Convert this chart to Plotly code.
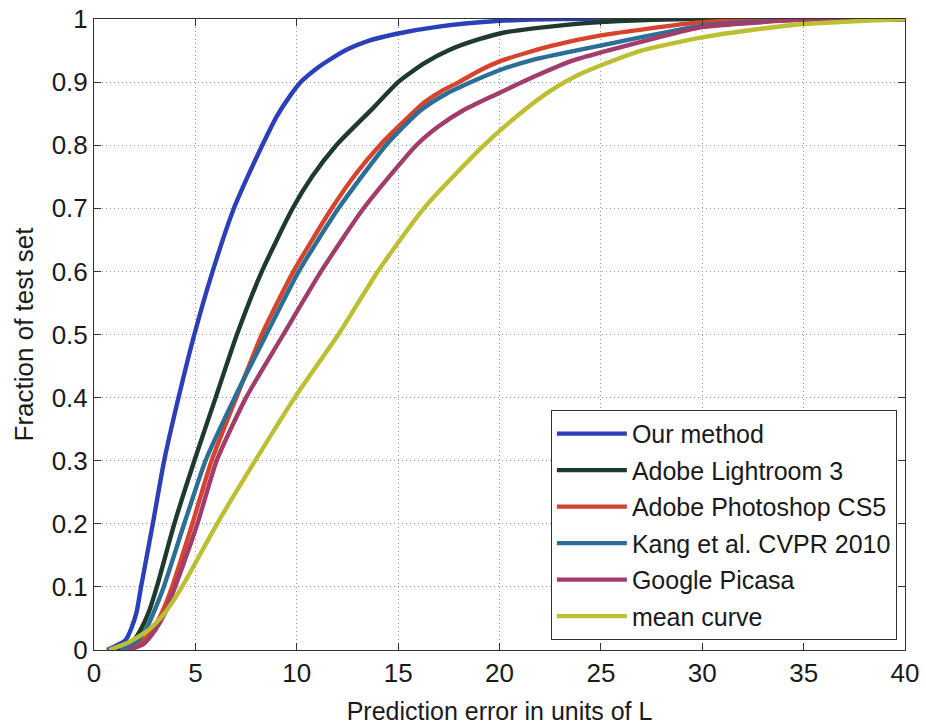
import plotly.graph_objects as go

# Series (x = prediction error, y = fraction of test set)
our_x = [0.65, 1.56, 1.85, 2.1, 2.32, 2.9, 3.46, 4.17, 4.95, 5.85, 6.9, 7.56, 8.3, 9.0, 9.6, 10.2, 11.0, 11.6, 12.5, 13.5, 15, 17, 20, 23, 40]
our_y = [0, 0.016, 0.035, 0.06, 0.1, 0.2, 0.3, 0.4, 0.5, 0.6, 0.7, 0.749, 0.8, 0.845, 0.875, 0.9, 0.922, 0.935, 0.952, 0.965, 0.977, 0.988, 0.997, 1, 1]

lr_x = [1.06, 1.97, 2.3, 2.7, 3.1, 3.96, 4.95, 6.0, 7.05, 8.28, 9.8, 10.75, 11.95, 13.8, 15.0, 16.3, 17.6, 19.0, 20.3, 22.5, 25, 29, 40]
lr_y = [0, 0.016, 0.032, 0.06, 0.1, 0.2, 0.3, 0.4, 0.5, 0.6, 0.7, 0.75, 0.8, 0.86, 0.9, 0.93, 0.952, 0.968, 0.979, 0.988, 0.995, 1, 1]

ps_x = [1.56, 2.46, 2.95, 3.36, 3.85, 4.85, 5.8, 7.02, 8.28, 9.84, 11.73, 12.9, 14.1, 15.0, 16.3, 17.1, 18.0, 19.0, 20.1, 22.5, 25, 30, 35, 40]
ps_y = [0, 0.016, 0.035, 0.06, 0.1, 0.2, 0.3, 0.4, 0.5, 0.6, 0.7, 0.754, 0.8, 0.829, 0.868, 0.885, 0.9, 0.918, 0.934, 0.957, 0.974, 0.995, 1, 1]

kang_x = [1.3, 2.2, 2.6, 2.95, 3.44, 4.45, 5.5, 6.94, 8.5, 10.1, 12.06, 14.4, 16.1, 17.4, 18.8, 20.1, 21.6, 25, 30, 35, 38, 40]
kang_y = [0, 0.016, 0.035, 0.06, 0.1, 0.2, 0.3, 0.4, 0.5, 0.6, 0.7, 0.8, 0.855, 0.882, 0.903, 0.92, 0.935, 0.958, 0.989, 0.999, 1, 1]

pic_x = [1.7, 2.46, 3.03, 3.52, 4.0, 5.1, 6.05, 7.5, 9.34, 11.2, 13.3, 15.9, 17.0, 18.2, 19.8, 21.8, 23.6, 25, 27.5, 30, 35, 38, 40]
pic_y = [0, 0.01, 0.032, 0.06, 0.1, 0.2, 0.3, 0.4, 0.5, 0.6, 0.7, 0.8, 0.83, 0.855, 0.88, 0.91, 0.934, 0.947, 0.968, 0.987, 0.999, 1, 1]

mean_x = [0.74, 1.64, 2.7, 3.52, 4.34, 6.07, 7.95, 9.9, 12.05, 14.0, 16.27, 19.24, 21.2, 22.6, 23.8, 25.2, 27, 30, 33, 35, 40]
mean_y = [0, 0.011, 0.032, 0.06, 0.1, 0.2, 0.3, 0.4, 0.5, 0.6, 0.7, 0.8, 0.855, 0.888, 0.91, 0.929, 0.95, 0.971, 0.985, 0.992, 1]

names = ["Our method", "Adobe Lightroom 3", "Adobe Photoshop CS5",
         "Kang et al. CVPR 2010", "Google Picasa", "mean curve"]
colors = ["#2b3fb8", "#1d3a2c", "#d8432e", "#2b6e96", "#a23c6b", "#bcbf32"]
series = [(our_x, our_y), (lr_x, lr_y), (ps_x, ps_y),
          (kang_x, kang_y), (pic_x, pic_y), (mean_x, mean_y)]

x_ticks = [0, 5, 10, 15, 20, 25, 30, 35, 40]
y_ticks = [0, 0.1, 0.2, 0.3, 0.4, 0.5, 0.6, 0.7, 0.8, 0.9, 1]
y_tick_text = ["0", "0.1", "0.2", "0.3", "0.4", "0.5", "0.6", "0.7", "0.8", "0.9", "1"]

fig = go.Figure()
for i, ((xs, ys), n, c) in enumerate(zip(series, names, colors)):
    fig.add_trace(go.Scatter(x=xs, y=ys, mode="lines", name=n, legendgroup=f"g{i}",
                             line=dict(color=c, width=4.4, shape="spline", smoothing=0.6)))

font = "Liberation Sans, Arial, Helvetica, sans-serif"
axis_common = dict(showline=True, linecolor="#333", linewidth=1, mirror="ticks",
                   ticks="inside", ticklen=7, tickcolor="#333",
                   showgrid=True, gridcolor="#9a9a9a", griddash="1px,3px", gridwidth=1,
                   zeroline=False, tickfont=dict(size=26, color="#1a1a1a", family=font))

fig.update_layout(
    width=926, height=727,
    margin=dict(l=94, r=21, t=19, b=77, autoexpand=False),
    paper_bgcolor="white", plot_bgcolor="white",
    font=dict(family=font, color="#1a1a1a"),
    xaxis=dict(range=[0, 40], tickvals=x_ticks,
               title=dict(text="Prediction error in units of L", font=dict(size=25), standoff=15),
               **axis_common),
    yaxis=dict(range=[0, 1], tickvals=y_ticks, ticktext=y_tick_text,
               title=dict(text="Fraction of test set", font=dict(size=26), standoff=10),
               **axis_common),
    legend=dict(x=0.99, y=0.016, xanchor="right", yanchor="bottom",
                bgcolor="white", bordercolor="#333", borderwidth=1,
                font=dict(size=25, color="#1a1a1a", family=font),
                tracegroupgap=1, itemwidth=70),
    showlegend=True,
)

fig.write_html("out.html", config={"displayModeBar": False},
               post_script="document.body.style.margin='0';document.body.style.overflow='hidden';")
